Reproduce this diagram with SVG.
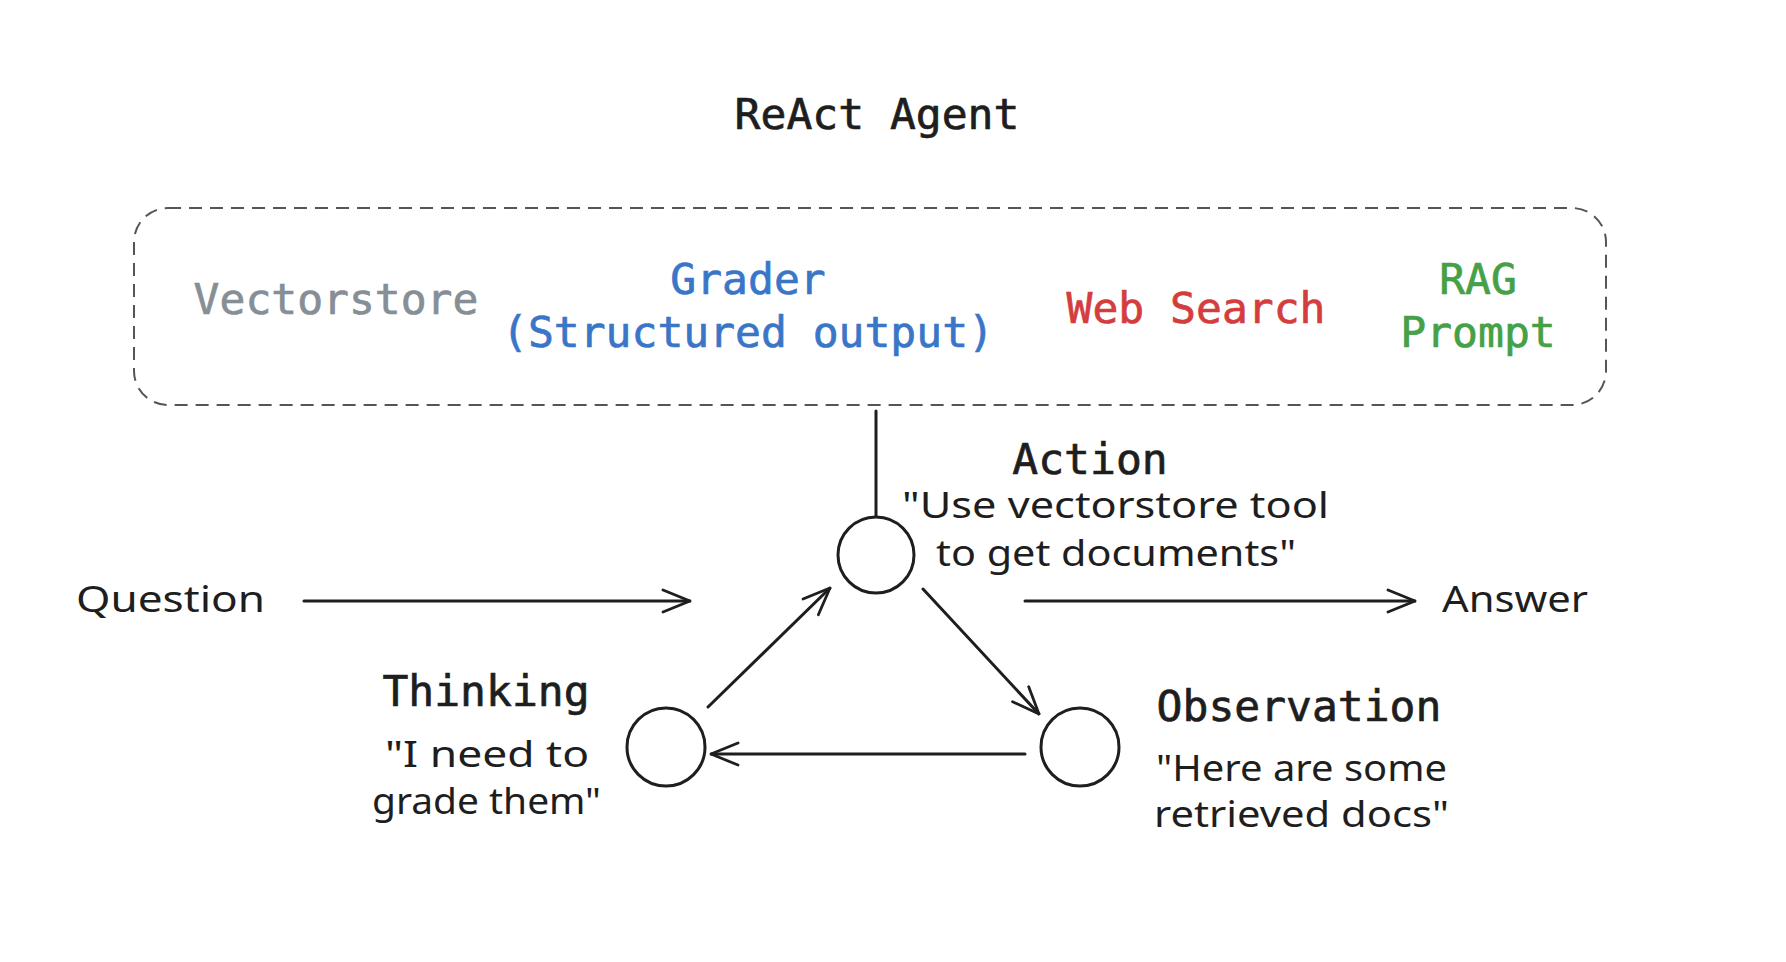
<svg xmlns="http://www.w3.org/2000/svg" width="1786" height="962" viewBox="0 0 1786 962">
<defs>
<style>
.mono{font-family:"DejaVu Sans Mono","Liberation Mono",monospace;font-size:43px;text-anchor:middle;fill:#1e1e1e;stroke-width:0.7px}
.hand{font-family:"Noto Sans","Liberation Sans",sans-serif;font-size:36px;fill:#1e1e1e}
.ln{stroke:#1e1e1e;stroke-width:3;fill:none;stroke-linecap:round}
.node{fill:none;stroke:#1e1e1e;stroke-width:3}
</style>
<marker id="ah" viewBox="0 0 30 26" refX="29" refY="13" markerWidth="30" markerHeight="26" markerUnits="userSpaceOnUse" orient="auto">
<path d="M2,2 L29,13 L2,24" fill="none" stroke="#1e1e1e" stroke-width="2.8" stroke-linecap="round" stroke-linejoin="round"/>
</marker>
</defs>
<rect width="1786" height="962" fill="#ffffff"/>

<g id="title"><text class="mono" x="877" y="129" style="stroke:#1e1e1e">ReAct Agent</text></g>

<g id="tools">
<rect x="134" y="208" width="1472" height="197" rx="34" ry="34" fill="none" stroke="#555555" stroke-width="2" stroke-dasharray="13 8"/>
<text class="mono" x="336" y="314" style="fill:#868e96;stroke:#868e96">Vectorstore</text>
<text class="mono" x="748" y="294" style="fill:#3a76c8;stroke:#3a76c8">Grader</text>
<text class="mono" x="748" y="347" style="fill:#3a76c8;stroke:#3a76c8">(Structured output)</text>
<text class="mono" x="1196" y="323" style="fill:#d43d3d;stroke:#d43d3d">Web Search</text>
<text class="mono" x="1478" y="294" style="fill:#45a047;stroke:#45a047">RAG</text>
<text class="mono" x="1478" y="347" style="fill:#45a047;stroke:#45a047">Prompt</text>
</g>

<g id="action">
<circle class="node" cx="876" cy="555" r="38"/>
<text class="mono" x="1090" y="474" style="stroke:#1e1e1e">Action</text>
<text class="hand" x="902" y="518" textLength="427" lengthAdjust="spacingAndGlyphs">"Use vectorstore tool</text>
<text class="hand" x="936" y="566" textLength="360" lengthAdjust="spacingAndGlyphs">to get documents"</text>
</g>

<g id="thinking">
<circle class="node" cx="666" cy="747" r="39"/>
<text class="mono" x="486" y="706" style="stroke:#1e1e1e">Thinking</text>
<text class="hand" x="385" y="767" textLength="204" lengthAdjust="spacingAndGlyphs">"I need to</text>
<text class="hand" x="372" y="814" textLength="229" lengthAdjust="spacingAndGlyphs">grade them"</text>
</g>

<g id="observation">
<circle class="node" cx="1080" cy="747" r="39"/>
<text class="mono" x="1299" y="721" style="stroke:#1e1e1e">Observation</text>
<text class="hand" x="1156" y="781" textLength="291" lengthAdjust="spacingAndGlyphs">"Here are some</text>
<text class="hand" x="1154" y="827" textLength="295" lengthAdjust="spacingAndGlyphs">retrieved docs"</text>
</g>

<g id="question"><text class="hand" x="76" y="612" textLength="189" lengthAdjust="spacingAndGlyphs">Question</text></g>
<g id="answer"><text class="hand" x="1442" y="612" textLength="146" lengthAdjust="spacingAndGlyphs">Answer</text></g>

<g id="connectors">
<line class="ln" x1="876" y1="411" x2="876" y2="516"/>
<line class="ln" x1="304" y1="601" x2="690" y2="601" marker-end="url(#ah)"/>
<line class="ln" x1="1025" y1="601" x2="1415" y2="601" marker-end="url(#ah)"/>
<line class="ln" x1="708" y1="707" x2="830" y2="588" marker-end="url(#ah)"/>
<line class="ln" x1="923" y1="589" x2="1039" y2="714" marker-end="url(#ah)"/>
<line class="ln" x1="1025" y1="754" x2="711" y2="754" marker-end="url(#ah)"/>
</g>
</svg>
